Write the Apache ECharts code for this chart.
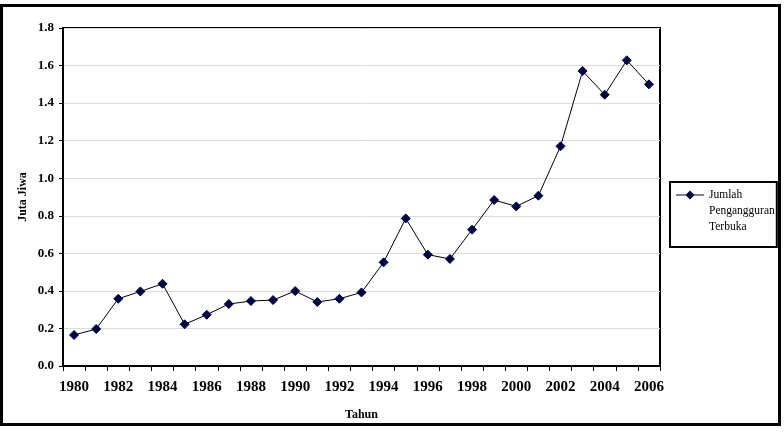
<!DOCTYPE html>
<html>
<head>
<meta charset="utf-8">
<script src="https://cdn.jsdelivr.net/npm/echarts@6/dist/echarts.min.js"></script>
<style>html,body{margin:0;padding:0;background:#fff}#c{width:784px;height:436px}</style>
</head>
<body>
<div id="c"></div>
<script>
var years = ['1980','1981','1982','1983','1984','1985','1986','1987','1988','1989','1990','1991','1992','1993','1994','1995','1996','1997','1998','1999','2000','2001','2002','2003','2004','2005','2006'];
var values = [0.165,0.197,0.358,0.397,0.438,0.222,0.273,0.330,0.346,0.351,0.399,0.341,0.358,0.392,0.552,0.786,0.593,0.570,0.726,0.884,0.850,0.907,1.170,1.571,1.445,1.628,1.500];
var seriesName = 'Jumlah Pengangguran Terbuka';
var chart = echarts.init(document.getElementById('c'));
var serif = '"Liberation Serif","Times New Roman",serif';
var legendIcon = 'path://M0,0 L0.01,0 L0,0.01 Z M0,7.5 L28,7.5 L28,8.5 L0,8.5 Z M9.5,8 L14,3.5 L18.5,8 L14,12.5 Z M28,48 L27.99,48 L28,47.99 Z';
chart.setOption({
  animation: false,
  textStyle: {fontFamily: serif},
  graphic: [{type: 'rect', shape: {x: 1.5, y: 5.5, width: 778, height: 419}, style: {fill: 'none', stroke: '#000', lineWidth: 3}, silent: true}],
  grid: {left: 63, right: 124, top: 28, bottom: 70, show: true, borderColor: '#000', borderWidth: 2, backgroundColor: 'transparent'},
  legend: {
    orient: 'vertical', left: 670, top: 182,
    padding: [5, 2, 12, 6],
    borderColor: '#000', borderWidth: 2,
    itemWidth: 28, itemHeight: 48, itemGap: 0,
    data: [{name: seriesName, icon: legendIcon}],
    formatter: function () { return 'Jumlah\nPengangguran\nTerbuka'; },
    itemStyle: {color: '#000040'},
    textStyle: {fontFamily: serif, fontSize: 11.5, color: '#000', lineHeight: 16}
  },
  xAxis: {
    type: 'category', data: years, boundaryGap: true,
    name: 'Tahun', nameLocation: 'middle', nameGap: 43, nameMoveOverlap: false,
    nameTextStyle: {fontFamily: serif, fontWeight: 'bold', fontSize: 12, color: '#000'},
    axisLine: {lineStyle: {color: '#000', width: 2}},
    axisTick: {show: true, alignWithLabel: false, interval: 0, length: 5, lineStyle: {color: '#000'}},
    axisLabel: {interval: 1, margin: 14, fontFamily: serif, fontWeight: 'bold', fontSize: 15, color: '#000'},
    splitLine: {show: false}
  },
  yAxis: {
    type: 'value', min: 0, max: 1.8, interval: 0.2,
    name: 'Juta Jiwa', nameLocation: 'middle', nameGap: 34, nameMoveOverlap: false,
    nameTextStyle: {fontFamily: serif, fontWeight: 'bold', fontSize: 12, color: '#000'},
    axisLine: {show: true, lineStyle: {color: '#000', width: 2}},
    axisTick: {show: true, length: 4, lineStyle: {color: '#000'}},
    axisLabel: {margin: 9, fontFamily: serif, fontWeight: 'bold', fontSize: 13, color: '#000', formatter: function (v) { return v.toFixed(1); }},
    splitLine: {show: true, lineStyle: {color: '#dcdcdc', width: 1}}
  },
  series: [{
    name: seriesName, type: 'line', data: values,
    symbol: 'diamond', symbolSize: 9,
    itemStyle: {color: '#000040', borderColor: '#000040'},
    lineStyle: {color: '#000', width: 1}
  }]
});
</script>
</body>
</html>
